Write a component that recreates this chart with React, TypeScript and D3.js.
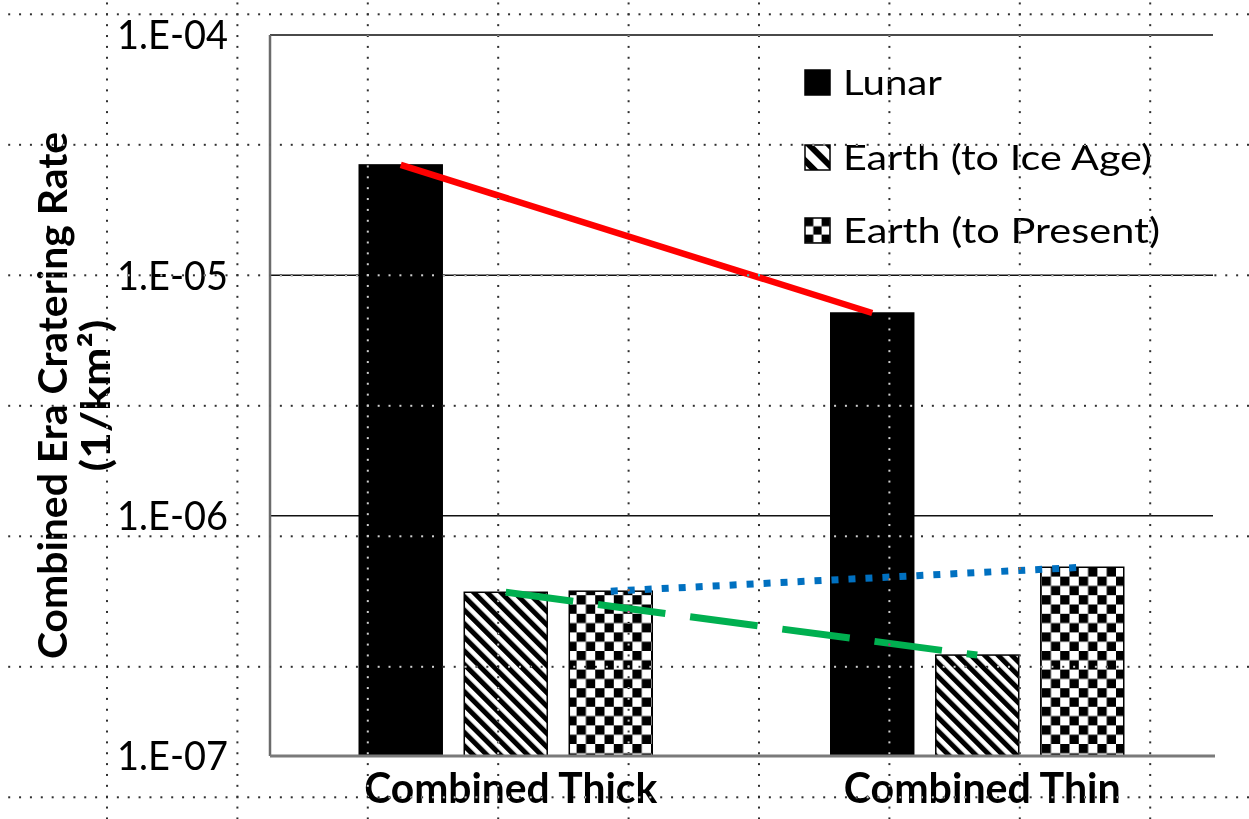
import React from "react";
import * as d3 from "d3";

// ---- data ----
const categories = ["Combined Thick", "Combined Thin"];
const seriesNames = ["Lunar", "Earth (to Ice Age)", "Earth (to Present)"];
const lunar = [2.88e-5, 6.97e-6];
const earthIceAge = [4.8e-7, 2.63e-7];
const earthPresent = [4.85e-7, 6.1e-7];
const yTicks = [1e-7, 1e-6, 1e-5, 1e-4];
const yTickLabels = ["1.E-07", "1.E-06", "1.E-05", "1.E-04"];

const W = 1249;
const H = 819;
const plot = { left: 270, right: 1213, top: 35, bottom: 756 };
const FONT = "Lato, 'Open Sans', sans-serif";

const seriesValues = [lunar, earthIceAge, earthPresent];
const fills = ["#000", "url(#hatch)", "url(#checker)"];
const swatchFills = ["#000", "url(#hatchS)", "url(#checkerS)"];

export default function App() {
  const y = d3.scaleLog().domain([1e-7, 1e-4]).range([plot.bottom, plot.top]);
  const x0 = d3.scalePoint<string>().domain(categories).range([plot.left, plot.right]).padding(0.5);
  const x1 = d3.scaleBand<string>().domain(seriesNames).range([-146.5, 146.5]).paddingInner(0.21).paddingOuter(0);
  const bw = x1.bandwidth();
  const cx = (cat: string, s: string) => (x0(cat) as number) + (x1(s) as number) + bw / 2;

  const trend = (vals: number[], sIdx: number) =>
    d3.line<number>()
      .x((_, i) => cx(categories[i], seriesNames[sIdx]))
      .y((v) => y(v))(vals) as string;

  // background page dotted grid
  const gx0 = 107, gy0 = 14.3, gstep = 130.4, dstep = gstep / 12;
  const vLines = d3.range(-1, 10).map((k) => gx0 + k * gstep).filter((v) => v >= 0 && v <= W);
  const hLines = d3.range(-1, 8).map((k) => gy0 + k * 130.5).filter((v) => v >= 0 && v <= H);
  const dots: [number, number][] = [];
  hLines.forEach((yy) => {
    d3.range(-12, 120).forEach((j) => {
      const xx = gx0 + j * dstep;
      if (xx >= 0 && xx <= W) dots.push([xx, yy]);
    });
  });
  vLines.forEach((xx) => {
    d3.range(-12, 80).forEach((j) => {
      const yy = gy0 + j * dstep;
      if (yy >= 0 && yy <= H) dots.push([xx, yy]);
    });
  });

  const legendY = [70, 145, 218];
  const legendTextLen = [99, 309, 317];
  const xLabelLen = [293, 277];

  return (
    <svg
      width={W}
      height={H}
      style={{ position: "absolute", left: 0, top: 0, background: "#fff" }}
      xmlns="http://www.w3.org/2000/svg"
    >
      <defs>
        <pattern id="hatch" patternUnits="userSpaceOnUse" width={9.6} height={9.6} patternTransform="rotate(-45)">
          <rect x={0} y={0} width={9.6} height={9.6} fill="#fff" />
          <rect x={0} y={0} width={5} height={9.6} fill="#000" />
        </pattern>
        <pattern id="checker" patternUnits="userSpaceOnUse" width={18.6} height={18.6}>
          <rect x={0} y={0} width={18.6} height={18.6} fill="#fff" />
          <rect x={0} y={0} width={9.3} height={9.3} fill="#000" />
          <rect x={9.3} y={9.3} width={9.3} height={9.3} fill="#000" />
        </pattern>
        <pattern id="hatchS" patternUnits="userSpaceOnUse" width={14} height={14} patternTransform="translate(805,145) rotate(-45)">
          <rect x={0} y={0} width={14} height={14} fill="#fff" />
          <rect x={0} y={0} width={6} height={14} fill="#000" />
        </pattern>
        <pattern id="checkerS" patternUnits="userSpaceOnUse" width={16.6} height={16.6} patternTransform="translate(805,218)">
          <rect x={0} y={0} width={16.6} height={16.6} fill="#fff" />
          <rect x={0} y={0} width={8.3} height={8.3} fill="#000" />
          <rect x={8.3} y={8.3} width={8.3} height={8.3} fill="#000" />
        </pattern>
      </defs>

      {/* gridlines */}
      {yTicks.slice(1).map((t, i) => (
        <line
          key={t}
          x1={plot.left}
          x2={plot.right}
          y1={y(t)}
          y2={y(t)}
          stroke={i === 2 ? "#4a4a4a" : "#111"}
          strokeWidth={i === 2 ? 2 : 1.5}
        />
      ))}

      {/* bars */}
      {categories.map((cat, ci) =>
        seriesNames.map((s, si) => {
          const v = seriesValues[si][ci];
          const bx = (x0(cat) as number) + (x1(s) as number);
          return (
            <rect
              key={cat + s}
              x={bx}
              y={y(v)}
              width={bw}
              height={plot.bottom - y(v)}
              fill={fills[si]}
              stroke="#000"
              strokeWidth={1.5}
            />
          );
        })
      )}

      {/* axes */}
      <line x1={plot.left} x2={plot.left} y1={plot.top} y2={plot.bottom} stroke="#6b6b6b" strokeWidth={2.5} />
      <line x1={plot.left} x2={plot.right + 2} y1={plot.bottom} y2={plot.bottom} stroke="#7a7a7a" strokeWidth={3} />

      {/* trend lines */}
      <path d={trend(lunar, 0)} fill="none" stroke="#FF0000" strokeWidth={6.5} />
      <path d={trend(earthIceAge, 1)} fill="none" stroke="#00B050" strokeWidth={7} strokeDasharray="68 25" />
      <path d={trend(earthPresent, 2)} fill="none" stroke="#0070C0" strokeWidth={7} strokeDasharray="7 10" />

      {/* y tick labels */}
      {yTicks.map((t, i) => (
        <text
          key={t}
          x={228}
          y={y(t)}
          dy="0.36em"
          textAnchor="end"
          fontFamily={FONT}
          fontSize={40}
          textLength={111}
          lengthAdjust="spacingAndGlyphs"
          fill="#000"
        >
          {yTickLabels[i]}
        </text>
      ))}

      {/* x labels */}
      {categories.map((cat, i) => (
        <text
          key={cat}
          x={(x0(cat) as number) + 5}
          y={803}
          textAnchor="middle"
          fontFamily={FONT}
          fontWeight="bold"
          fontSize={42}
          textLength={xLabelLen[i]}
          lengthAdjust="spacingAndGlyphs"
          fill="#000"
        >
          {cat}
        </text>
      ))}

      {/* y title */}
      <text
        transform={`translate(67, ${(plot.top + plot.bottom) / 2}) rotate(-90)`}
        textAnchor="middle"
        fontFamily={FONT}
        fontWeight="bold"
        fontSize={40}
        textLength={527}
        lengthAdjust="spacingAndGlyphs"
        fill="#000"
      >
        Combined Era Cratering Rate
      </text>
      <text
        transform={`translate(110, ${(plot.top + plot.bottom) / 2}) rotate(-90)`}
        textAnchor="middle"
        fontFamily={FONT}
        fontWeight="bold"
        fontSize={40}
        textLength={152}
        lengthAdjust="spacingAndGlyphs"
        fill="#000"
      >
        (1/km²)
      </text>

      {/* legend */}
      {seriesNames.map((s, i) => (
        <g key={s}>
          <rect x={805} y={legendY[i]} width={25} height={25} fill={swatchFills[i]} stroke="#000" strokeWidth={1.5} />
          <text
            x={843}
            y={legendY[i] + 25}
            fontFamily={FONT}
            fontSize={35}
            textLength={legendTextLen[i]}
            lengthAdjust="spacingAndGlyphs"
            fill="#000"
          >
            {s}
          </text>
        </g>
      ))}

      {/* page dotted grid overlay */}
      <g style={{ mixBlendMode: "difference" }}>
        {dots.map(([dx, dy], i) => (
          <rect key={i} x={dx - 1} y={dy - 1} width={2} height={2} fill="#d0d0d0" />
        ))}
      </g>
    </svg>
  );
}
